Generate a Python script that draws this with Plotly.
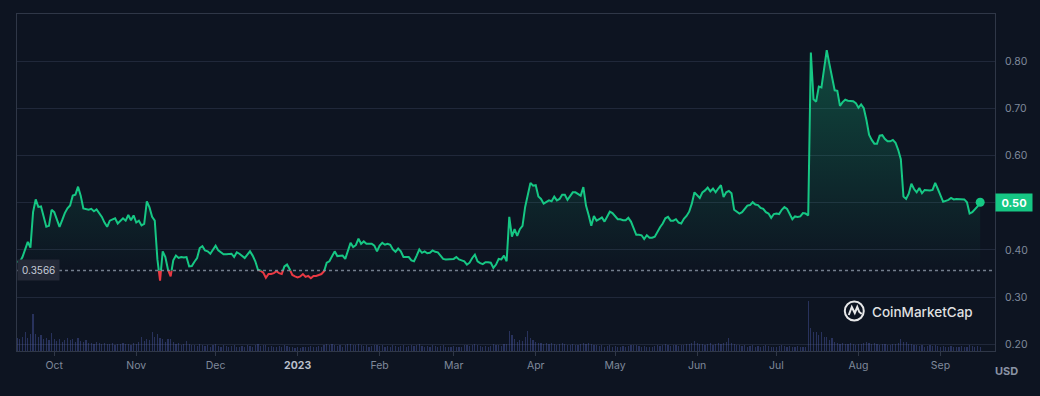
import pandas as pd
import plotly.graph_objects as go

# ---------------- data ----------------
start_date = "2022-09-17"          # first daily point
reference_price = 0.3566           # period-open reference line

price = [
    0.375, 0.375, 0.385, 0.400, 0.417, 0.405, 0.480, 0.507, 0.491, 0.492,
    0.472, 0.449, 0.451, 0.485, 0.480, 0.465, 0.449, 0.463, 0.478, 0.488,
    0.494, 0.515, 0.517, 0.534, 0.515, 0.488, 0.486, 0.485, 0.487, 0.482,
    0.486, 0.478, 0.470, 0.458, 0.449, 0.462, 0.465, 0.467, 0.456, 0.462,
    0.467, 0.462, 0.474, 0.463, 0.473, 0.458, 0.462, 0.452, 0.455, 0.503,
    0.490, 0.470, 0.462, 0.380, 0.335, 0.397, 0.385, 0.358, 0.344, 0.378,
    0.388, 0.383, 0.385, 0.384, 0.385, 0.365, 0.366, 0.375, 0.383, 0.404,
    0.408, 0.399, 0.397, 0.392, 0.401, 0.409, 0.399, 0.395, 0.391, 0.391,
    0.392, 0.392, 0.385, 0.395, 0.392, 0.388, 0.383, 0.390, 0.397, 0.388,
    0.376, 0.358, 0.356, 0.352, 0.341, 0.349, 0.349, 0.351, 0.355, 0.351,
    0.349, 0.365, 0.369, 0.359, 0.347, 0.344, 0.342, 0.344, 0.349, 0.343,
    0.345, 0.340, 0.345, 0.345, 0.347, 0.349, 0.355, 0.373, 0.376, 0.385,
    0.397, 0.387, 0.388, 0.388, 0.381, 0.399, 0.415, 0.406, 0.410, 0.424,
    0.413, 0.418, 0.413, 0.413, 0.413, 0.409, 0.397, 0.409, 0.415, 0.411,
    0.413, 0.411, 0.401, 0.396, 0.403, 0.397, 0.385, 0.385, 0.385, 0.378,
    0.376, 0.388, 0.401, 0.394, 0.397, 0.393, 0.394, 0.399, 0.396, 0.395,
    0.389, 0.381, 0.380, 0.380, 0.380, 0.381, 0.385, 0.380, 0.378, 0.376,
    0.369, 0.373, 0.383, 0.390, 0.376, 0.372, 0.370, 0.374, 0.374, 0.373,
    0.362, 0.369, 0.381, 0.380, 0.388, 0.376, 0.470, 0.428, 0.444, 0.430,
    0.444, 0.451, 0.491, 0.519, 0.542, 0.536, 0.537, 0.513, 0.508, 0.498,
    0.502, 0.505, 0.503, 0.513, 0.505, 0.508, 0.517, 0.517, 0.506, 0.513,
    0.522, 0.522, 0.519, 0.515, 0.533, 0.494, 0.474, 0.451, 0.472, 0.462,
    0.465, 0.469, 0.460, 0.470, 0.481, 0.478, 0.472, 0.465, 0.465, 0.463,
    0.463, 0.468, 0.460, 0.444, 0.432, 0.432, 0.431, 0.423, 0.431, 0.426,
    0.426, 0.428, 0.439, 0.448, 0.456, 0.467, 0.470, 0.462, 0.462, 0.465,
    0.458, 0.456, 0.466, 0.472, 0.481, 0.498, 0.522, 0.515, 0.510, 0.522,
    0.526, 0.532, 0.524, 0.530, 0.522, 0.530, 0.537, 0.512, 0.522, 0.525,
    0.520, 0.485, 0.480, 0.477, 0.480, 0.487, 0.494, 0.495, 0.501, 0.496,
    0.495, 0.489, 0.487, 0.480, 0.477, 0.468, 0.476, 0.477, 0.476, 0.485,
    0.491, 0.487, 0.476, 0.465, 0.471, 0.470, 0.471, 0.478, 0.477, 0.473,
    0.818, 0.719, 0.714, 0.746, 0.744, 0.781, 0.823, 0.794, 0.764, 0.738,
    0.737, 0.705, 0.713, 0.718, 0.716, 0.715, 0.715, 0.711, 0.701, 0.708,
    0.700, 0.675, 0.644, 0.633, 0.625, 0.625, 0.642, 0.643, 0.635, 0.630,
    0.630, 0.633, 0.627, 0.612, 0.592, 0.513, 0.508, 0.519, 0.540, 0.529,
    0.522, 0.531, 0.520, 0.527, 0.526, 0.526, 0.527, 0.542, 0.529, 0.515,
    0.502, 0.504, 0.506, 0.510, 0.507, 0.508, 0.508, 0.508, 0.507, 0.501,
    0.477, 0.480, 0.485, 0.492, 0.501,
]

volume_bn = [
    2.3, 2.1, 2.6, 3.5, 2.4, 3.0, 6.6, 3.0, 2.5, 2.9,
    2.2, 2.4, 1.9, 3.2, 2.1, 1.8, 2.2, 1.7, 2.0, 2.3,
    1.9, 2.1, 1.6, 2.3, 1.8, 1.7, 2.0, 1.4, 1.5, 1.3,
    1.6, 1.4, 1.2, 1.5, 1.3, 1.2, 1.4, 1.1, 1.3, 1.2,
    1.5, 1.2, 1.3, 1.1, 1.4, 1.2, 1.6, 2.6, 1.8, 2.1,
    1.9, 3.4, 2.5, 3.0, 2.4, 2.2, 1.7, 2.2, 2.1, 1.6,
    1.3, 1.4, 1.1, 1.2, 1.8, 1.2, 1.0, 1.1, 0.9, 1.2,
    1.0, 0.9, 1.1, 0.8, 1.0, 1.2, 0.9, 0.8, 1.0, 0.9,
    0.8, 0.9, 1.0, 0.8, 0.7, 0.9, 0.8, 1.1, 0.9, 0.8,
    1.0, 1.2, 0.9, 1.0, 1.1, 0.8, 0.9, 0.7, 0.8, 0.9,
    0.8, 1.0, 0.9, 0.8, 0.7, 0.6, 0.7, 0.6, 0.8, 0.7,
    0.8, 0.9, 0.7, 0.8, 0.9, 0.8, 1.0, 1.3, 1.1, 1.2,
    1.1, 0.9, 1.0, 0.8, 1.0, 1.2, 1.3, 1.0, 1.1, 1.2,
    1.0, 0.9, 1.1, 0.8, 0.9, 1.0, 1.1, 0.9, 1.0, 0.8,
    0.9, 0.8, 1.0, 0.9, 0.8, 0.9, 1.1, 0.8, 0.9, 1.0,
    0.9, 1.0, 1.2, 0.9, 0.8, 0.9, 0.8, 1.0, 0.9, 0.8,
    0.9, 1.0, 0.8, 0.7, 0.8, 0.9, 0.8, 0.7, 0.8, 1.0,
    1.1, 0.9, 1.0, 1.2, 1.0, 0.9, 0.8, 0.9, 0.8, 0.9,
    1.2, 1.0, 1.1, 0.9, 1.3, 1.2, 3.6, 2.9, 2.2, 1.7,
    2.0, 1.8, 2.6, 3.6, 2.3, 2.0, 1.6, 1.4, 1.5, 1.3,
    1.4, 1.2, 1.5, 1.3, 1.1, 1.2, 1.4, 1.3, 1.1, 1.0,
    1.2, 1.1, 1.0, 1.3, 1.4, 1.2, 1.5, 1.3, 1.1, 1.0,
    0.9, 1.0, 0.8, 0.9, 1.0, 0.8, 0.9, 0.7, 0.8, 0.9,
    0.8, 0.9, 1.0, 1.1, 1.0, 0.9, 0.8, 0.9, 0.8, 0.7,
    0.8, 0.9, 1.0, 0.9, 1.1, 1.2, 1.0, 0.9, 1.1, 1.0,
    0.9, 1.0, 1.1, 1.2, 1.3, 1.5, 1.8, 1.4, 1.2, 1.3,
    1.1, 1.2, 1.4, 1.1, 1.3, 1.5, 1.2, 1.4, 1.6, 2.3,
    1.5, 1.3, 1.1, 1.0, 0.9, 1.0, 0.8, 0.9, 1.0, 0.8,
    0.9, 0.8, 0.9, 1.0, 0.9, 0.8, 0.7, 0.8, 0.9, 1.0,
    0.9, 0.8, 0.9, 0.7, 0.8, 0.9, 0.8, 0.7, 0.8, 9.0,
    4.2, 3.5, 3.5, 2.8, 3.4, 2.5, 2.6, 2.0, 2.3, 1.6,
    1.5, 1.3, 1.4, 1.2, 1.3, 1.5, 1.2, 1.1, 1.3, 1.2,
    1.4, 1.6, 1.5, 1.3, 1.4, 1.2, 1.1, 1.3, 1.2, 1.0,
    1.1, 1.2, 1.3, 1.5, 2.2, 1.6, 1.7, 1.3, 1.2, 1.1,
    1.0, 0.9, 1.0, 0.8, 0.9, 1.0, 0.9, 1.1, 0.9, 0.8,
    0.9, 0.8, 0.7, 0.9, 0.8, 0.7, 0.8, 0.9, 0.8, 0.7,
    1.0, 0.9, 0.8, 0.9, 0.8,
]

month_ticks = ["2022-10-01", "2022-11-01", "2022-12-01", "2023-01-01",
               "2023-02-01", "2023-03-01", "2023-04-01", "2023-05-01",
               "2023-06-01", "2023-07-01", "2023-08-01", "2023-09-01"]
month_labels = ["Oct", "Nov", "Dec",
                "<b><span style='color:#b9bfcb'>2023</span></b>",
                "Feb", "Mar", "Apr", "May", "Jun", "Jul", "Aug", "Sep"]
price_ticks = [0.20, 0.30, 0.40, 0.50, 0.60, 0.70, 0.80]

# ---------------- styling ----------------
BG = "#0d1421"
GREEN = "#16c784"
RED = "#ea3943"
GRID = "#20283a"
AXIS = "#2f3747"
TEXT = "#7f899b"
FONT = "Inter"

W, H = 1040, 396
ML, MR, MT, MB = 17, 43, 14, 45
PW, PH = W - ML - MR, H - MT - MB

YMIN, YMAX = 0.186, 0.8996
VOL_MAX = 60.7

assert len(price) == len(volume_bn)
dates = pd.date_range(start_date, periods=len(price), freq="D")
x0 = dates[0] - pd.Timedelta(days=0.075)
x1 = dates[0] + pd.Timedelta(days=369.6)

f = (reference_price - YMIN) / (YMAX - YMIN)

def px_x(p):
    return (p - ML) / PW

def px_y(p):
    return (H - MB - p) / PH

last_label = f"{price[-1]:.2f}"
# the last-price badge replaces the tick label at the same level
price_tick_text = ["" if f"{v:.2f}" == last_label else f"{v:.2f}" for v in price_ticks]

fig = go.Figure()

# volume bars
fig.add_trace(go.Bar(
    x=dates, y=volume_bn, xaxis="x", yaxis="y4",
    marker=dict(color="rgba(78,94,175,0.42)", line=dict(width=0)),
    width=0.45 * 86400000, hoverinfo="skip", showlegend=False,
))

# part of the price line below the reference (red), clipped to its sub-area
fig.add_trace(go.Scatter(
    x=dates, y=price, xaxis="x", yaxis="y2", mode="lines",
    line=dict(color=RED, width=2), showlegend=False, hoverinfo="skip",
))

# part above the reference (green) with gradient fill down to the reference
fig.add_trace(go.Scatter(
    x=dates, y=price, xaxis="x", yaxis="y3", mode="lines",
    line=dict(color=GREEN, width=2), fill="tozeroy",
    fillgradient=dict(type="vertical",
                      colorscale=[[0, "rgba(22,199,132,0.0)"],
                                  [1, "rgba(22,199,132,0.30)"]],
                      start=reference_price, stop=max(price)),
    showlegend=False, hoverinfo="skip",
))

# last-price dot
fig.add_trace(go.Scatter(
    x=[dates[-1]], y=[price[-1]], xaxis="x", yaxis="y3", mode="markers",
    marker=dict(color=GREEN, size=9), showlegend=False, hoverinfo="skip",
))

fig.update_layout(
    width=W, height=H,
    margin=dict(l=ML, r=MR, t=MT, b=MB, pad=0),
    paper_bgcolor=BG, plot_bgcolor="rgba(0,0,0,0)",
    font=dict(family=FONT, color=TEXT, size=11),
    showlegend=False,
    bargap=0,
    xaxis=dict(
        type="date", range=[x0, x1], anchor="y",
        tickvals=month_ticks, ticktext=month_labels,
        showgrid=False, zeroline=False,
        showline=True, linecolor=AXIS, linewidth=1, mirror=True,
        ticks="outside", ticklen=4, tickcolor=AXIS,
        tickfont=dict(size=10.5, color=TEXT, family=FONT),
    ),
    yaxis=dict(
        domain=[0, 1], range=[YMIN, YMAX], side="right", anchor="x",
        tickvals=price_ticks, ticktext=price_tick_text,
        showgrid=True, gridcolor=GRID, gridwidth=1, zeroline=False,
        showline=True, linecolor=AXIS, linewidth=1, mirror=True,
        ticks="", ticklabelstandoff=7,
        tickfont=dict(size=10.5, color=TEXT, family=FONT),
    ),
    yaxis2=dict(domain=[0, f], range=[YMIN, reference_price], anchor="x",
                visible=False, showgrid=False, zeroline=False),
    yaxis3=dict(domain=[f, 1], range=[reference_price, YMAX], anchor="x",
                visible=False, showgrid=False, zeroline=False),
    yaxis4=dict(overlaying="y", range=[0, VOL_MAX], anchor="x",
                visible=False, showgrid=False, zeroline=False),
)

# reference price dotted line
fig.add_shape(type="line", xref="paper", x0=0, x1=1, yref="y",
              y0=reference_price, y1=reference_price,
              line=dict(color="rgba(150,160,178,0.75)", width=1.5, dash="dot"),
              layer="above")

# CoinMarketCap watermark logo
lx, ly = px_x(856), px_y(311)
fig.add_shape(type="circle", xref="paper", yref="paper",
              xsizemode="pixel", ysizemode="pixel", xanchor=lx, yanchor=ly,
              x0=-9.5, x1=9.5, y0=-9.5, y1=9.5,
              line=dict(color="rgba(255,255,255,0.9)", width=2), layer="above")
fig.add_shape(type="path", xref="paper", yref="paper",
              xsizemode="pixel", ysizemode="pixel", xanchor=lx, yanchor=ly,
              path="M -5.5,-4 L -2.5,4 L 0.5,-2 L 3,4 L 5,-1 L 7.5,-3",
              line=dict(color="rgba(255,255,255,0.9)", width=2), layer="above")

annotations = [
    dict(text=f"{reference_price:.4f}", xref="paper", x=0, xanchor="left",
         yref="y", y=reference_price, yanchor="middle", showarrow=False,
         font=dict(size=10, color="#c6ccd8", family=FONT),
         bgcolor="#242937", borderpad=4),
    dict(text=f"<b>{last_label}</b>", xref="paper", x=1, xanchor="left",
         yref="y", y=price[-1], yanchor="middle", showarrow=False,
         font=dict(size=11, color="#ffffff", family=FONT),
         bgcolor=GREEN, borderpad=3, width=30, height=11),
    dict(text="<b>USD</b>", xref="paper", x=px_x(1009), xanchor="center",
         yref="paper", y=px_y(371), yanchor="middle", showarrow=False,
         font=dict(size=11, color="#8a93a5", family=FONT)),
    dict(text="CoinMarketCap", xref="paper", x=px_x(872), xanchor="left",
         yref="paper", y=px_y(311.5), yanchor="middle", showarrow=False,
         font=dict(size=13.5, color="rgba(255,255,255,0.88)", family=FONT,
                   weight=500)),
]
fig.update_layout(annotations=annotations)

fig.write_html(
    "out.html",
    config={"displayModeBar": False},
    post_script=("document.body.style.margin='0';"
                 "document.body.style.padding='0';"
                 "document.body.style.background='#0d1421';"),
)
